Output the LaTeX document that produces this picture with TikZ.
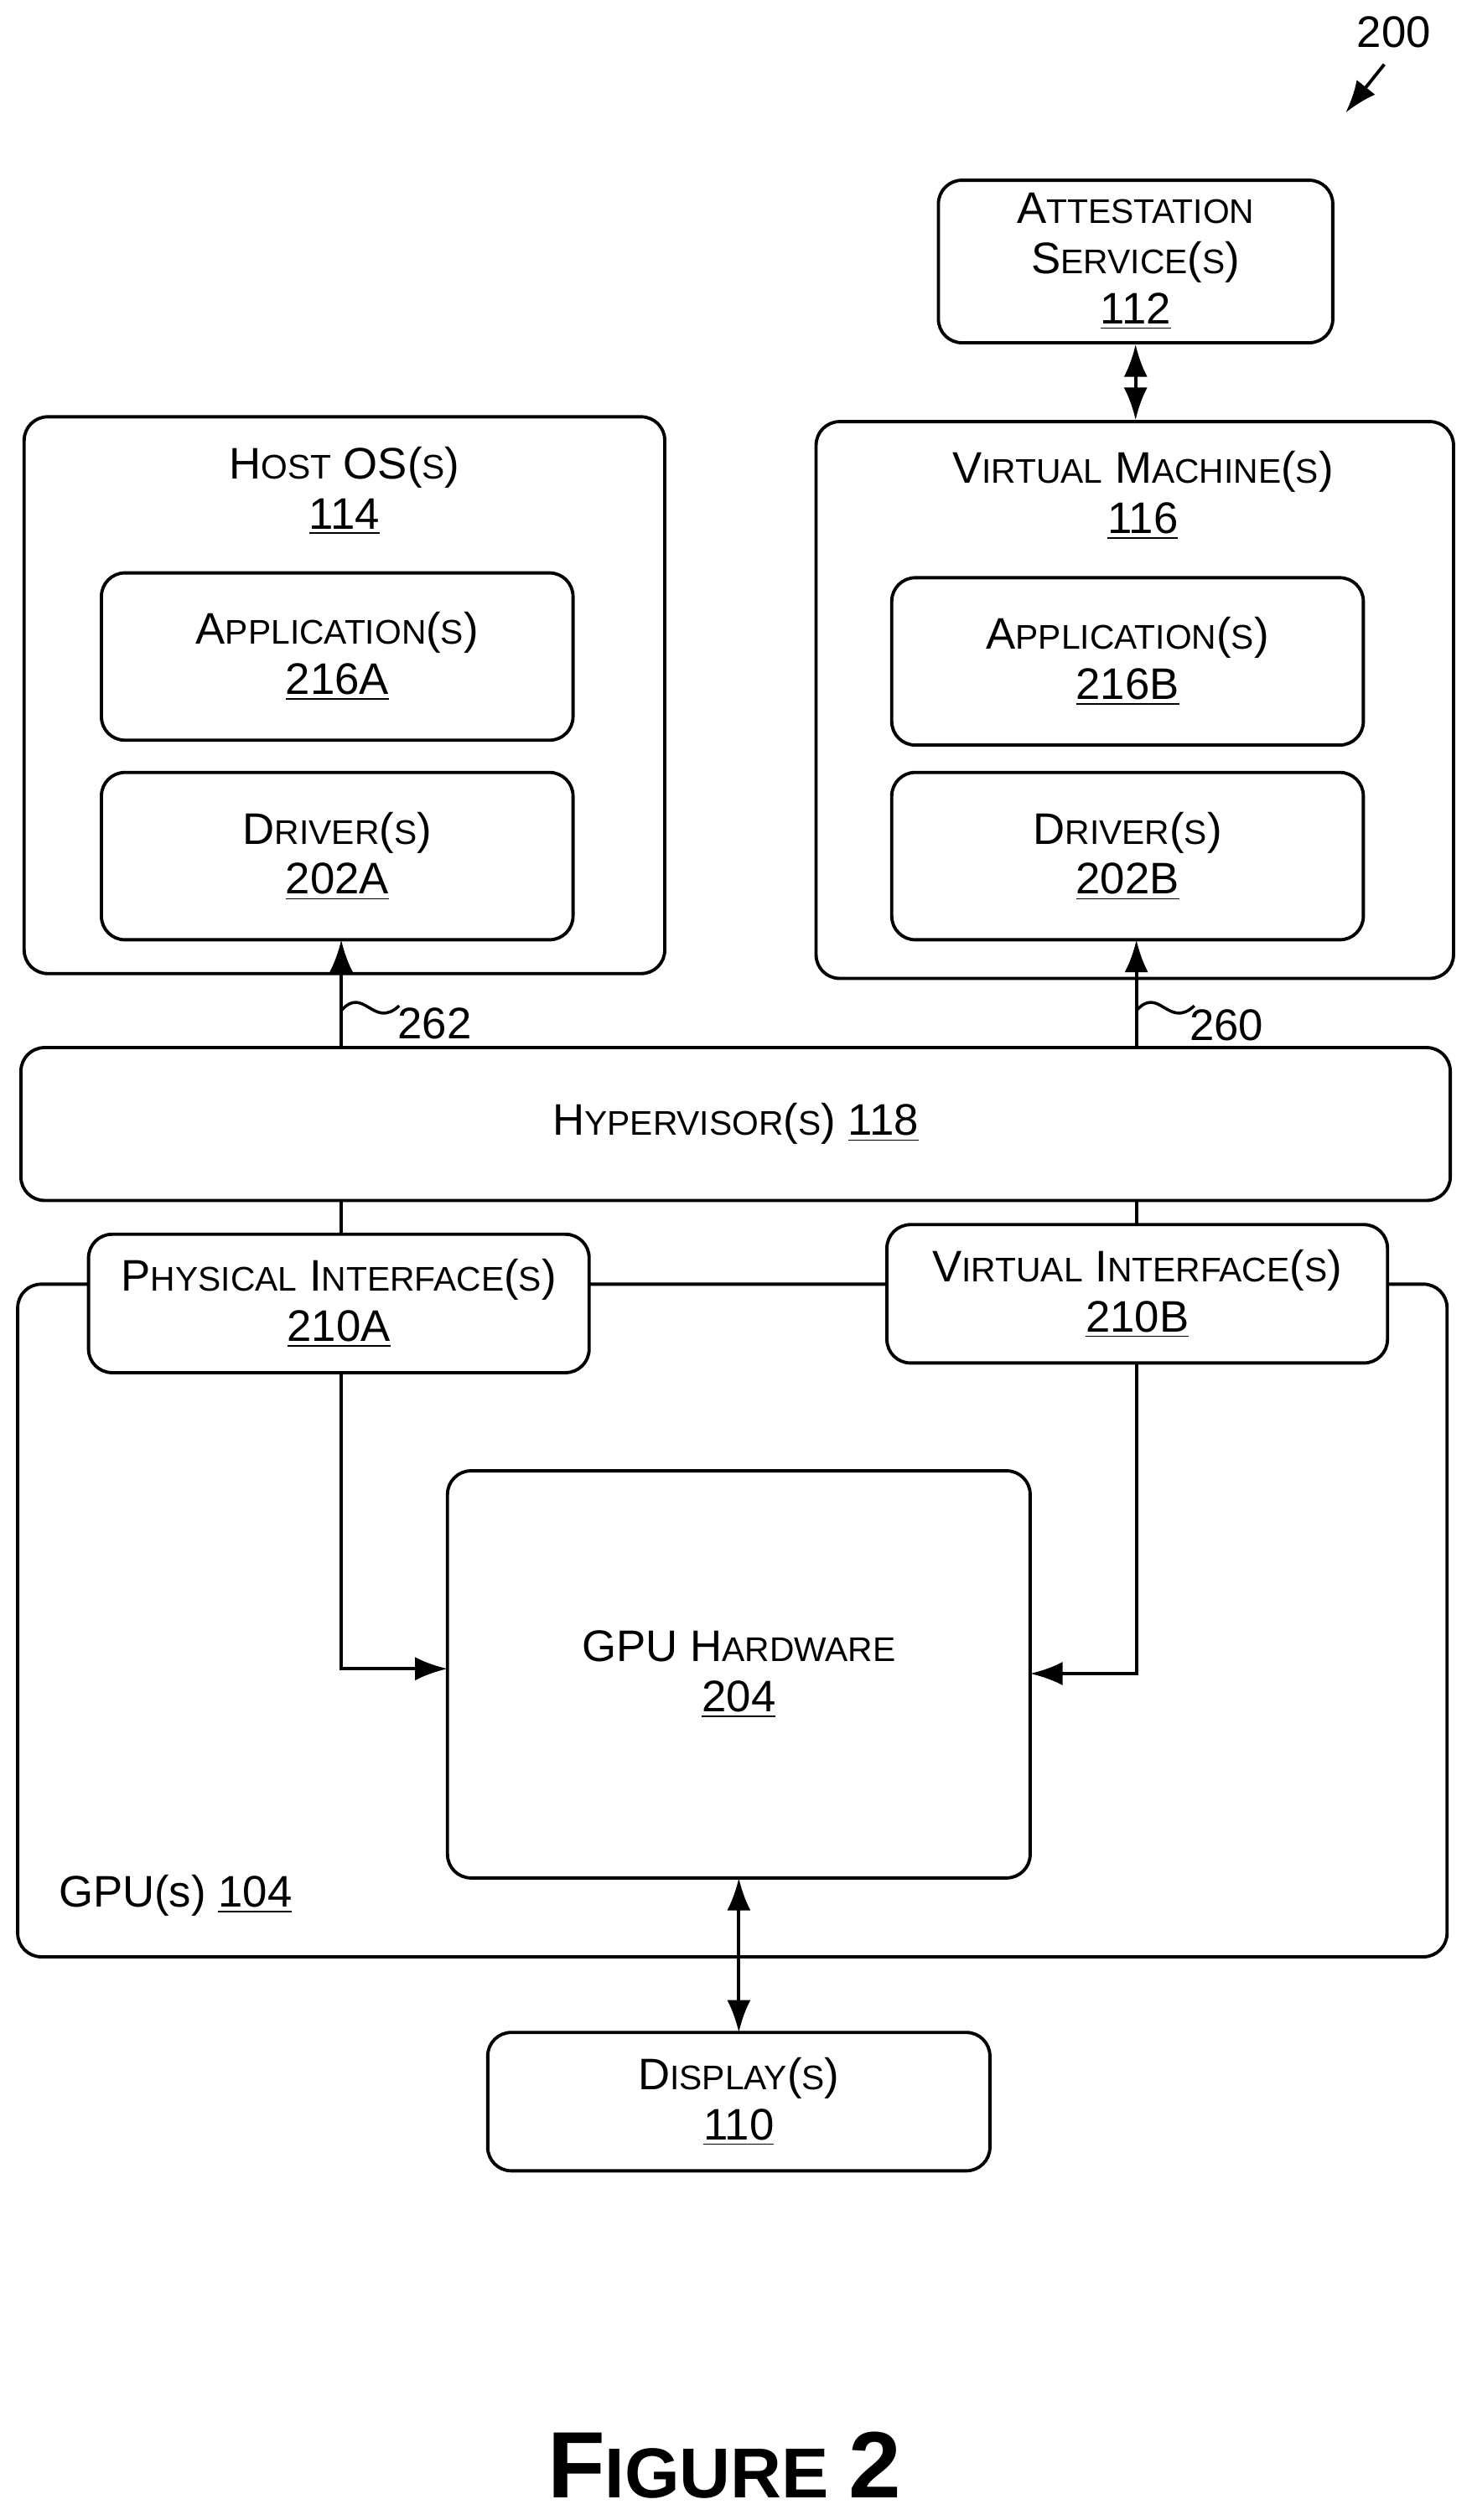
\documentclass[tikz,border=0pt]{standalone}
\usepackage{fontspec}
\setmainfont{Liberation Sans}
\usetikzlibrary{arrows.meta}
\newcommand\Bg[1]{{\fontsize{15}{18}\selectfont #1}}
\newcommand\Sm[1]{{\fontsize{11.6}{18}\selectfont #1}}
\newcommand\bx[6]{\node[box,minimum width={(#4-#2)*0.0192cm},minimum height={(#5-#3)*0.0192cm}] (#1) at ({(#2+#4)/2},{(#3+#5)/2}) {#6};}
\begin{document}
\begin{tikzpicture}[x=0.0192cm,y=-0.0192cm,
  box/.style={draw,fill=white,line width=1.1pt,rounded corners=8pt,align=center,inner sep=0pt,font=\fontsize{15}{19}\selectfont},
  ln/.style={line width=1.1pt},
  ar/.style={line width=1.1pt,-{Latex[length=11pt,width=8pt]}},
  dar/.style={line width=1.1pt,{Latex[length=11pt,width=8pt]}-{Latex[length=11pt,width=8pt]}}]
\useasboundingbox (0,0) rectangle (914,1566);
\bx{gpu}{11}{798}{899}{1216}{}
\node[anchor=west,font=\fontsize{15}{18}\selectfont] (gpul) at (30,1178) {GPU(s) \underline{104}};
\bx{att}{583}{112}{828}{213}{\Bg{A}\Sm{TTESTATION}\\[-2pt]\Bg{S}\Sm{ERVICE}\Bg{(}\Sm{S}\Bg{)}\\[-2pt]\underline{112}}
\bx{host}{15}{259}{413}{605}{}
\node[align=center,font=\fontsize{15}{19}\selectfont] (hostl) at (214,305) {\Bg{H}\Sm{OST} \Bg{OS(}\Sm{S}\Bg{)}\\[-2pt]\underline{114}};
\bx{appa}{63}{356}{356}{460}{\Bg{A}\Sm{PPLICATION}\Bg{(}\Sm{S}\Bg{)}\\[-2pt]\underline{216A}}
\bx{drva}{63}{480}{356}{584}{\Bg{D}\Sm{RIVER}\Bg{(}\Sm{S}\Bg{)}\\[-2pt]\underline{202A}}
\bx{vm}{507}{262}{903}{608}{}
\node[align=center,font=\fontsize{15}{19}\selectfont] (vml) at (710,308) {\Bg{V}\Sm{IRTUAL} \Bg{M}\Sm{ACHINE}\Bg{(}\Sm{S}\Bg{)}\\[-2pt]\underline{116}};
\bx{appb}{554}{359}{847}{463}{\Bg{A}\Sm{PPLICATION}\Bg{(}\Sm{S}\Bg{)}\\[-2pt]\underline{216B}}
\bx{drvb}{554}{480}{847}{584}{\Bg{D}\Sm{RIVER}\Bg{(}\Sm{S}\Bg{)}\\[-2pt]\underline{202B}}
\bx{hyp}{13}{651}{901}{746}{\Bg{H}\Sm{YPERVISOR}\Bg{(}\Sm{S}\Bg{)} \underline{118}}
\bx{pif}{55}{767}{366}{853}{\Bg{P}\Sm{HYSICAL} \Bg{I}\Sm{NTERFACE}\Bg{(}\Sm{S}\Bg{)}\\[-2pt]\underline{210A}}
\bx{vif}{551}{761}{862}{847}{\Bg{V}\Sm{IRTUAL} \Bg{I}\Sm{NTERFACE}\Bg{(}\Sm{S}\Bg{)}\\[-2pt]\underline{210B}}
\bx{hw}{278}{914}{640}{1167}{\Bg{GPU} \Bg{H}\Sm{ARDWARE}\\[-2pt]\underline{204}}
\bx{disp}{303}{1263}{615}{1349}{\Bg{D}\Sm{ISPLAY}\Bg{(}\Sm{S}\Bg{)}\\[-2pt]\underline{110}}
% connectors
\draw[dar] (att.south) -- (att.south |- vm.north);
\draw[ar] (212,651) -- (212,584);
\draw[ar] (706,651) -- (706,584);
\draw[ln] (212,746) -- (212,767);
\draw[ln] (706,746) -- (706,761);
\draw[ar] (212,853) -- (212,1037) -- (278,1037);
\draw[ar] (706,847) -- (706,1040) -- (640,1040);
\draw[dar] (459,1167) -- (459,1263);
% labels
\coordinate (s1) at (212,628);
\coordinate (s2) at (706,628);
\draw[line width=1pt] (s1) .. controls (226,612) and (232,640) .. (248,625);
\node[font=\fontsize{15}{18}\selectfont] (l262) at (270,636) {262};
\draw[line width=1pt] (s2) .. controls (720,612) and (726,640) .. (742,625);
\node[font=\fontsize{15}{18}\selectfont] (l260) at (762,637) {260};
\node[font=\fontsize{15}{18}\selectfont] (n200) at (866,20) {200};
\coordinate (a200) at (836,70);
\draw[ar] (860,40) -- (a200);
\node[font=\bfseries] (fig) at (450,1532) {\fontsize{32}{36}\selectfont F\fontsize{24}{36}\selectfont IGURE \fontsize{32}{36}\selectfont 2};
\end{tikzpicture}
\end{document}
